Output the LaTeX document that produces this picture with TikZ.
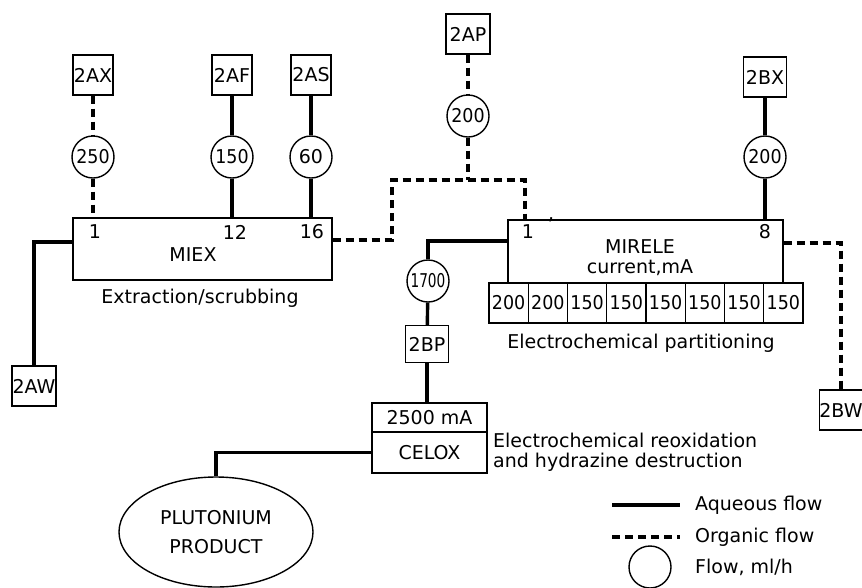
\documentclass[tikz,border=0pt]{standalone}
\usepackage{fontspec}
\setmainfont{DejaVu Sans}
\usetikzlibrary{shapes.geometric}
\begin{document}
\begin{tikzpicture}[x=1pt,y=-1pt,
  every node/.style={font=\fontsize{19}{19.5}\selectfont},
  unit/.style={draw,line width=1.4pt,minimum width=40,minimum height=40,inner sep=0pt},
  flow/.style={circle,draw,line width=1.4pt,minimum size=42,inner sep=0pt},
  proc/.style={draw,line width=1.4pt,inner sep=0pt},
  lbl/.style={inner sep=0pt},
  aq/.style={line width=3.4pt},
  org/.style={line width=3.4pt,dash pattern=on 8pt off 5pt},
]
\useasboundingbox (0,0) rectangle (862,587);

% junction coordinates
\coordinate (j0) at (0,240);
\coordinate (j1) at (392,180);
\coordinate (j2) at (525,180);
\coordinate (j3) at (0,243);
\coordinate (j4) at (0,241);
\coordinate (j5) at (0,242);

% MIEX group
\node[unit] (ax) at (93,75) {2AX};
\node[unit] (af) at (232,75) {2AF};
\node[unit] (as) at (311,75) {2AS};
\node[flow] (f250) at (93,157) {\scalebox{0.92}[1]{250}};
\node[flow] (f150) at (232,157) {\scalebox{0.92}[1]{150}};
\node[flow] (f60) at (311,157) {60};
\node[proc,minimum width=259,minimum height=62] (miex) at (202.5,249) {};
\node[lbl] (p1) at (95,232) {1};
\node[lbl] (p12) at (235,232) {12};
\node[lbl] (p16) at (312,232) {16};
\node[lbl] (miexl) at (193,255) {MIEX};
\node[lbl] (extr) at (200,298) {Extraction/scrubbing};
\node[unit,minimum width=44] (aw) at (34,386) {2AW};

% MIRELE group
\node[unit,minimum width=44] (ap) at (468,34) {2AP};
\node[flow] (f200a) at (468,116) {\scalebox{0.92}[1]{200}};
\node[unit,minimum width=43] (bx) at (765,77) {2BX};
\node[flow] (f200b) at (765,157) {\scalebox{0.92}[1]{200}};
\node[proc,minimum width=275,minimum height=63] (mirele) at (645.5,251.5) {};
\foreach \v [count=\i] in {200,200,150,150,150,150,150,150}
  \node[proc,minimum width=39.25,minimum height=40] (cell\i) at ({489+39.25*(\i-0.5)},303) {\scalebox{0.92}[1]{\v}};
\node[lbl] (p1b) at (528,232) {1};
\node[lbl] (tick) at (551,225) {'};
\node[lbl] (p8) at (765,232) {8};
\node[lbl] (mirelel) at (640,247) {MIRELE};
\node[lbl] (curr) at (640,268) {current,mA};
\node[lbl] (part) at (641,343) {Electrochemical partitioning};
\node[unit,minimum width=42] (bw) at (841,410) {2BW};

% CELOX group
\node[flow] (f1700) at (428,281) {\scalebox{0.72}[1]{1700}};
\node[unit,minimum width=43,minimum height=37] (bp) at (427,344) {2BP};
\node[proc,minimum width=115,minimum height=29] (celoxt) at (429.5,417.5) {2500 mA};
\node[proc,minimum width=115,minimum height=41] (celox) at (429.5,452.5) {CELOX};
\node[lbl,align=left,anchor=west] (reox) at (493,452) {Electrochemical reoxidation\\and hydrazine destruction};
\node[ellipse,draw,line width=1.4pt,minimum width=194,minimum height=110,align=center,inner sep=0pt] (pu) at (216,532) {PLUTONIUM\\[10pt]PRODUCT};

% connectors
\draw[org] (ax) -- (f250);
\draw[org] (f250) -- (f250 |- miex.north);
\draw[aq] (af) -- (f150);
\draw[aq] (f150) -- (f150 |- miex.north);
\draw[aq] (as) -- (f60);
\draw[aq] (f60) -- (f60 |- miex.north);
\draw[aq] (miex.west |- j5) -| (aw.north);
\draw[org] (miex.east |- j0) -| (j1) -- (j2) -- (mirele.north -| j2);
\draw[org] (ap) -- (f200a);
\draw[org] (f200a) -- (f200a |- j1);
\draw[aq] (bx) -- (f200b);
\draw[aq] (f200b) -- (mirele.north -| f200b);
\draw[org] (mirele.east |- j3) -| (bw.north);
\draw[aq] (mirele.west |- j4) -| (f1700.north);
\draw[aq] (f1700) -- (bp);
\draw[aq] (bp) -- (celoxt.north -| bp);
\draw[aq] (celox.west) -| (pu.north);

% legend
\coordinate (la1) at (612,505);
\coordinate (la2) at (680,505);
\coordinate (lo1) at (612,537);
\coordinate (lo2) at (680,537);
\draw[aq] (la1) -- (la2);
\draw[org] (lo1) -- (lo2);
\node[flow] (lc) at (650,567) {};
\node[lbl,anchor=west] (laq) at (695,505) {Aqueous flow};
\node[lbl,anchor=west] (lorg) at (695,537) {Organic flow};
\node[lbl,anchor=west] (lfl) at (695,567) {Flow, ml/h};
\end{tikzpicture}
\end{document}
